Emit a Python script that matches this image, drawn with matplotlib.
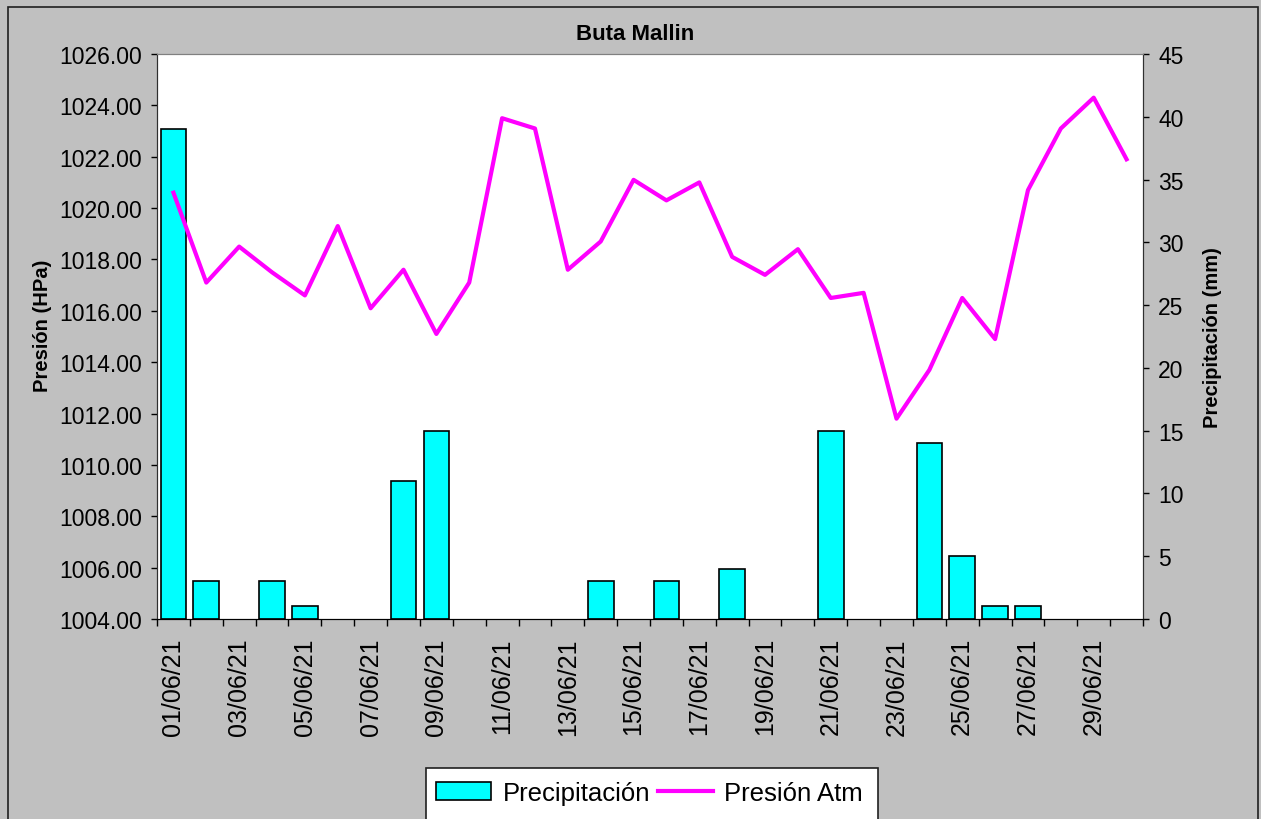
"""Buta Mallin - precipitacion diaria y presion atmosferica, junio 2021."""

import matplotlib
matplotlib.use("Agg")
import matplotlib.pyplot as plt
from matplotlib.patches import Rectangle, Patch
from matplotlib.lines import Line2D

plt.rcParams["font.family"] = ["Liberation Sans", "DejaVu Sans"]

dates = [f"{d:02d}/06/21" for d in range(1, 31)]
precip = [39, 3, 0, 3, 1, 0, 0, 11, 15, 0, 0, 0, 0, 3, 0,
          3, 0, 4, 0, 0, 15, 0, 0, 14, 5, 1, 1, 0, 0, 0]
pressure = [1020.6, 1017.1, 1018.5, 1017.5, 1016.6, 1019.3, 1016.1, 1017.6,
            1015.1, 1017.1, 1023.5, 1023.1, 1017.6, 1018.7, 1021.1, 1020.3,
            1021.0, 1018.1, 1017.4, 1018.4, 1016.5, 1016.7, 1011.8, 1013.7,
            1016.5, 1014.9, 1020.7, 1023.1, 1024.3, 1021.9]

W, H = 1261, 820
BG = "#C0C0C0"
FS = 16.5

fig = plt.figure(figsize=(W / 100, H / 100), dpi=100, facecolor=BG)

# outer chart border (Excel style)
fig.patches.append(Rectangle((8 / W, -0.05), 1250 / W, 1.05 - 8 / H,
                             transform=fig.transFigure, fill=False,
                             edgecolor="#202020", linewidth=1.2))

ax = fig.add_axes([157 / W, 200 / H, 986 / W, 565 / H])
ax.set_facecolor("white")
x = list(range(len(dates)))

# precipitation bars (right scale); empty days draw nothing
ax.bar(x, precip, width=0.78, color="#00FFFF", edgecolor="black",
       linewidth=[1.2 if v > 0 else 0 for v in precip], zorder=2)
ax.set_ylim(0, 45)
ax.set_yticks(range(0, 50, 5))

# x axis: ticks between categories, labels every other day
ax.set_xlim(-0.5, len(dates) - 0.5)
ax.set_xticks([i - 0.5 for i in range(len(dates) + 1)])
ax.set_xticklabels([])
ax.set_xticks(x[::2], minor=True)
ax.set_xticklabels(dates[::2], minor=True, rotation=90, fontsize=18,
                   va="top")
ax.tick_params(axis="x", which="major", direction="out", length=5, width=1)
ax.tick_params(axis="x", which="minor", length=0, pad=13)

# pressure line (left scale)
ax2 = ax.twinx()
ax2.plot(x, pressure, color="#FF00FF", linewidth=3, zorder=3)
ax2.set_ylim(1004, 1026)
ax2.set_yticks(range(1004, 1028, 2))
ax2.set_yticklabels([f"{v:.2f}" for v in range(1004, 1028, 2)])
ax2.yaxis.tick_left()
ax2.yaxis.set_label_position("left")
ax2.set_ylabel("Presión (HPa)", fontsize=14.5, fontweight="bold")
ax2.yaxis.set_label_coords(-0.106, 0.52)
ax2.tick_params(axis="y", direction="out", length=4, width=1, pad=7,
                labelsize=FS)

# twinx moves the first axis ticks to the left, so set them right here
ax.yaxis.tick_right()
ax.yaxis.set_label_position("right")
ax.set_ylabel("Precipitación (mm)", fontsize=14.5, fontweight="bold")
ax.yaxis.set_label_coords(1.061, 0.5)
ax.tick_params(axis="y", direction="out", length=4, width=1, pad=7,
               labelsize=FS)

for a in (ax, ax2):
    a.spines["top"].set_color("#808080")
    a.spines["left"].set_color("#303030")
    a.spines["right"].set_color("#303030")
    a.spines["bottom"].set_color("black")

fig.text(635 / W, 1 - 35 / H, "Buta Mallin", ha="center", va="center",
         fontsize=16, fontweight="bold")

# legend box running off the bottom edge
fig.patches.append(Rectangle((426 / W, -0.05), 452 / W, 0.05 + 51 / H,
                             transform=fig.transFigure, facecolor="white",
                             edgecolor="#202020", linewidth=1.2))
handles = [Patch(facecolor="#00FFFF", edgecolor="black", linewidth=1.2),
           Line2D([], [], color="#FF00FF", linewidth=3)]
fig.legend(handles, ["Precipitación", "Presión Atm"], ncol=2,
           loc="center left", bbox_to_anchor=(431 / W, 1 - 794 / H),
           frameon=False, fontsize=18.5, handlelength=2.15,
           handleheight=0.65, handletextpad=0.43, columnspacing=0.3,
           borderpad=0.2, borderaxespad=0)

fig.savefig("out.png", dpi=100, facecolor=BG)
